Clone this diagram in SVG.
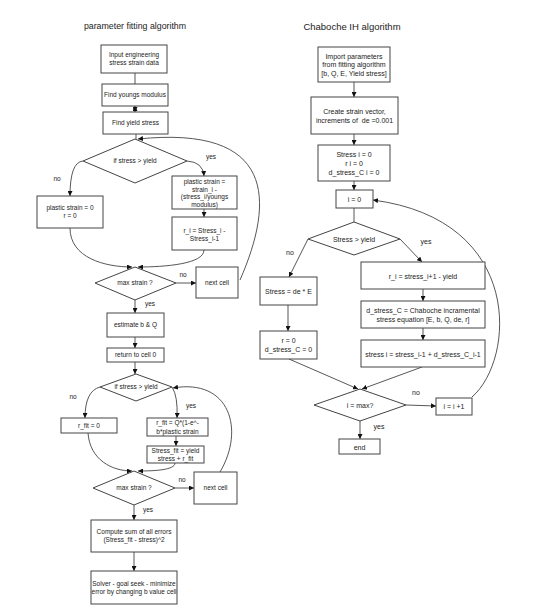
<svg xmlns="http://www.w3.org/2000/svg" width="560" height="613" viewBox="0 0 560 613">
<defs>
<style>
.b{fill:#fff;stroke:#444;stroke-width:1}
.t{font-family:"Liberation Sans",Arial,sans-serif;font-size:6.5px;fill:#222;text-anchor:middle}
.r{font-size:7px}
.h{font-family:"Liberation Sans",Arial,sans-serif;fill:#222;text-anchor:middle}
.c{fill:none;stroke:#444;stroke-width:0.9}
</style>
<marker id="a" viewBox="0 0 10 10" refX="10" refY="5" markerWidth="5" markerHeight="5" markerUnits="userSpaceOnUse" orient="auto"><path d="M0,0 L10,5 L0,10 Z" fill="#111"/></marker>
<marker id="s" viewBox="0 0 10 10" refX="10" refY="5" markerWidth="5" markerHeight="5" markerUnits="userSpaceOnUse" orient="auto-start-reverse"><path d="M0,0 L10,5 L0,10 Z" fill="#111"/></marker>
</defs>
<rect width="560" height="613" fill="#fff"/>
<text class="h" x="135" y="29" font-size="8.8">parameter fitting algorithm</text>
<text class="h" x="352" y="30" font-size="9.5">Chaboche IH algorithm</text>

<g id="connectors">
<line class="c" x1="135" y1="73" x2="135" y2="84"/>
<line class="c" x1="135" y1="106" x2="135" y2="112" marker-end="url(#a)" marker-start="url(#s)"/>
<line class="c" x1="136" y1="134" x2="136" y2="140"/>
<path class="c" d="M83,161 Q70,162 70,196" marker-end="url(#a)"/>
<path class="c" d="M187,161 Q203,162 204,176" marker-end="url(#a)"/>
<line class="c" x1="204" y1="209" x2="204" y2="217" marker-end="url(#a)"/>
<path class="c" d="M70,228 C70,258 105,267 132,267" marker-end="url(#a)"/>
<path class="c" d="M204,250 C204,264 165,267 138,267" marker-end="url(#a)"/>
<line class="c" x1="176" y1="283" x2="196" y2="283" marker-end="url(#a)"/>
<path class="c" d="M240,280 C275,200 275,125 138,139" marker-end="url(#a)"/>
<line class="c" x1="135" y1="300" x2="135" y2="313" marker-end="url(#a)"/>
<line class="c" x1="135" y1="337" x2="135" y2="348" marker-end="url(#a)"/>
<line class="c" x1="135" y1="362" x2="135" y2="374" marker-end="url(#a)"/>
<path class="c" d="M100,387 Q85,391 85,418" marker-end="url(#a)"/>
<path class="c" d="M172,387 Q178,396 177,418" marker-end="url(#a)"/>
<line class="c" x1="176" y1="436" x2="176" y2="446" marker-end="url(#a)"/>
<path class="c" d="M88,433 C90,460 112,471 132,471" marker-end="url(#a)"/>
<path class="c" d="M175,463 C175,470 155,471 138,471" marker-end="url(#a)"/>
<line class="c" x1="175" y1="488" x2="194" y2="488" marker-end="url(#a)"/>
<path class="c" d="M220,472 C245,430 230,378 173,388" marker-end="url(#a)"/>
<line class="c" x1="134" y1="505" x2="134" y2="520" marker-end="url(#a)"/>
<line class="c" x1="134" y1="552" x2="134" y2="571" marker-end="url(#a)"/>

<line class="c" x1="354" y1="82" x2="354" y2="97" marker-end="url(#a)"/>
<line class="c" x1="354" y1="134" x2="354" y2="145" marker-end="url(#a)"/>
<line class="c" x1="354" y1="181" x2="354" y2="190" marker-end="url(#a)"/>
<line class="c" x1="354" y1="208" x2="354" y2="222"/>
<line class="c" x1="308" y1="239" x2="289" y2="277" marker-end="url(#a)"/>
<line class="c" x1="400" y1="239" x2="422" y2="262" marker-end="url(#a)"/>
<line class="c" x1="423" y1="289" x2="423" y2="301" marker-end="url(#a)"/>
<line class="c" x1="423" y1="328" x2="423" y2="340" marker-end="url(#a)"/>
<line class="c" x1="288" y1="305" x2="288" y2="331" marker-end="url(#a)"/>
<line class="c" x1="289" y1="359" x2="358" y2="389" marker-end="url(#a)"/>
<line class="c" x1="422" y1="367" x2="362" y2="389" marker-end="url(#a)"/>
<line class="c" x1="406" y1="405" x2="436" y2="406" marker-end="url(#a)"/>
<path class="c" d="M472,397 C515,360 525,220 373,200" marker-end="url(#a)"/>
<line class="c" x1="360" y1="421" x2="360" y2="439" marker-end="url(#a)"/>
</g>

<g id="labels" class="t">
<text x="211" y="159">yes</text>
<text x="57" y="181">no</text>
<text x="183" y="277">no</text>
<text x="150" y="306">yes</text>
<text x="73" y="399">no</text>
<text x="191" y="408">yes</text>
<text x="182" y="482">no</text>
<text x="148" y="512">yes</text>
<text class="r" x="426" y="244">yes</text>
<text class="r" x="290" y="255">no</text>
<text class="r" x="416" y="395">no</text>
<text class="r" x="379" y="429">yes</text>
</g>

<g id="n1"><rect class="b" x="101" y="45" width="66" height="28"/><text class="t" x="134" y="57.3">Input engineering</text><text class="t" x="134" y="65.3">stress strain data</text></g>
<g id="n2"><rect class="b" x="102" y="84" width="66" height="22"/><text class="t" x="135" y="97.3">Find youngs modulus</text></g>
<g id="n3"><rect class="b" x="103" y="112" width="65" height="22"/><text class="t" x="135.5" y="125.3">Find yield stress</text></g>
<g id="n4"><polygon class="b" points="135,139 187,161 135,183 83,161"/><text class="t" x="135" y="163.3">if stress &gt; yield</text></g>
<g id="n5"><rect class="b" x="37" y="196" width="66" height="32"/><text class="t" x="70" y="210.3">plastic strain = 0</text><text class="t" x="70" y="218.3">r = 0</text></g>
<g id="n6"><rect class="b" x="172" y="176" width="65" height="33"/><text class="t" x="204.5" y="184.3">plastic strain =</text><text class="t" x="204.5" y="191.8">strain_i -</text><text class="t" x="204.5" y="199.3">(stress_i/youngs</text><text class="t" x="204.5" y="206.8">modulus)</text></g>
<g id="n7"><rect class="b" x="172" y="217" width="65" height="33"/><text class="t" x="204.5" y="233.3">r_i = Stress_i -</text><text class="t" x="204.5" y="241.3">Stress_i-1</text></g>
<g id="n8"><polygon class="b" points="135,267 176,283 135,300 95,283"/><text class="t" x="135" y="285.3">max strain ?</text></g>
<g id="n9"><rect class="b" x="196" y="267" width="42" height="31"/><text class="t" x="217" y="285.3">next cell</text></g>
<g id="n10"><rect class="b" x="107" y="313" width="57" height="24"/><text class="t" x="135.5" y="327.3">estimate b &amp; Q</text></g>
<g id="n11"><rect class="b" x="107" y="348" width="57" height="14"/><text class="t" x="135.5" y="357.3">return to cell 0</text></g>
<g id="n12"><polygon class="b" points="136,374 172,387 136,401 100,387"/><text class="t" x="136" y="389.3">if stress &gt; yield</text></g>
<g id="n13"><rect class="b" x="61" y="418" width="56" height="15"/><text class="t" x="89" y="428.3">r_fit = 0</text></g>
<g id="n14"><rect class="b" x="147" y="418" width="61" height="18"/><text class="t" x="177.5" y="425.3">r_fit = Q*(1-e^-</text><text class="t" x="177.5" y="434.3">b*plastic strain</text></g>
<g id="n15"><rect class="b" x="147" y="446" width="57" height="17"/><text class="t" x="175.5" y="453.3">Stress_fit = yield</text><text class="t" x="175.5" y="461.3">stress + r_fit</text></g>
<g id="n16"><polygon class="b" points="134,471 175,488 134,505 93,488"/><text class="t" x="134" y="490.3">max strain ?</text></g>
<g id="n17"><rect class="b" x="194" y="472" width="43" height="32"/><text class="t" x="215.5" y="490.3">next cell</text></g>
<g id="n18"><rect class="b" x="91" y="520" width="86" height="32"/><text class="t" x="134" y="534.3">Compute sum of all errors</text><text class="t" x="134" y="542.3">(Stress_fit - stress)^2</text></g>
<g id="n19"><rect class="b" x="91" y="571" width="86" height="33"/><text class="t" x="134" y="586.3">Solver - goal seek - minimize</text><text class="t" x="134" y="594.3">error by changing b value cell</text></g>

<g id="m1"><rect class="b" x="318" y="47" width="72" height="35"/><text class="t r" x="354" y="58.5">Import parameters</text><text class="t r" x="354" y="67">from fitting algorithm</text><text class="t r" x="354" y="75.5">[b, Q, E, Yield stress]</text></g>
<g id="m2"><rect class="b" x="311" y="97" width="87" height="37"/><text class="t r" x="354.5" y="113.5">Create strain vector,</text><text class="t r" x="354.5" y="122.5">increments of &#160;de =0.001</text></g>
<g id="m3"><rect class="b" x="318" y="145" width="72" height="36"/><text class="t r" x="354" y="156.5">Stress i = 0</text><text class="t r" x="354" y="165.5">r i = 0</text><text class="t r" x="354" y="174.5">d_stress_C i = 0</text></g>
<g id="m4"><rect class="b" x="336" y="190" width="37" height="18"/><text class="t r" x="354.5" y="201.5">i = 0</text></g>
<g id="m5"><polygon class="b" points="354,222 400,239 354,255 308,239"/><text class="t r" x="354" y="241.5">Stress &gt; yield</text></g>
<g id="m6"><rect class="b" x="260" y="277" width="57" height="28"/><text class="t r" x="288.5" y="293.5">Stress = de * E</text></g>
<g id="m7"><rect class="b" x="361" y="262" width="124" height="27"/><text class="t r" x="423" y="278.5">r_i = stress_i+1 - yield</text></g>
<g id="m8"><rect class="b" x="361" y="301" width="124" height="27"/><text class="t r" x="423" y="312.5">d_stress_C = Chaboche incramental</text><text class="t r" x="423" y="321.5">stress equation [E, b, Q, de, r]</text></g>
<g id="m9"><rect class="b" x="361" y="340" width="124" height="27"/><text class="t r" x="423" y="356.5">stress i = stress_i-1 + d_stress_C_i-1</text></g>
<g id="m10"><rect class="b" x="260" y="331" width="57" height="28"/><text class="t r" x="288.5" y="342.5">r = 0</text><text class="t r" x="288.5" y="351.5">d_stress_C = 0</text></g>
<g id="m11"><polygon class="b" points="360,389 406,405 360,421 314,405"/><text class="t r" x="360" y="407.5">i = max?</text></g>
<g id="m12"><rect class="b" x="436" y="398" width="36" height="17"/><text class="t r" x="454" y="408.5">i = i +1</text></g>
<g id="m13"><rect class="b" x="339" y="439" width="41" height="15"/><text class="t r" x="359.5" y="449.5">end</text></g>
</svg>
